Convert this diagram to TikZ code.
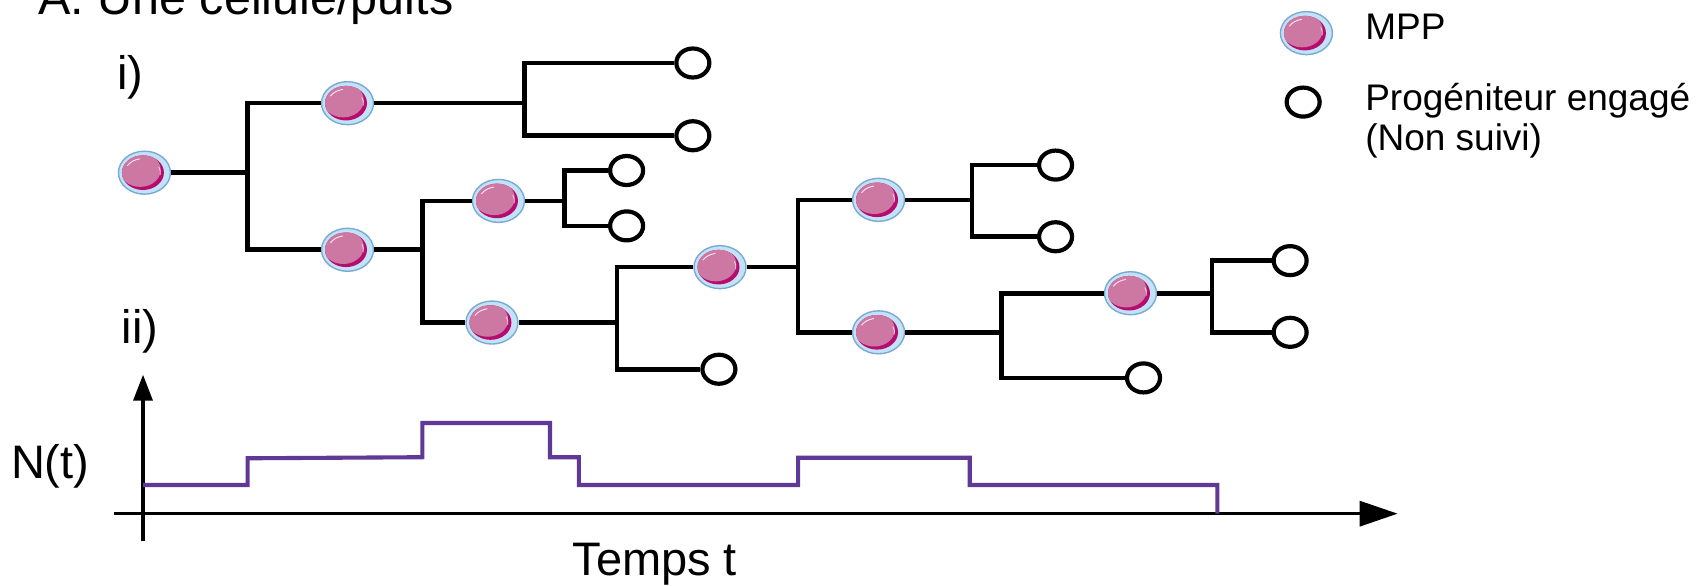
\documentclass[tikz,border=0pt]{standalone}
\usepackage{fontspec}
\setmainfont{Liberation Sans}
\usetikzlibrary{shapes.geometric,arrows.meta}
\definecolor{cellfill}{RGB}{196,226,246}
\definecolor{cellrim}{RGB}{120,170,214}
\definecolor{cellpink}{RGB}{205,120,163}
\definecolor{celldark}{RGB}{182,12,112}
\definecolor{stepcol}{RGB}{96,56,150}
\begin{document}
\begin{tikzpicture}[x=1.086pt,y=-1.086pt,
  mpp/.style={ellipse, draw=cellrim, line width=1.4pt, fill=cellfill,
    minimum width=52pt, minimum height=43pt, inner sep=0pt,
    path picture={
      \begin{scope}[shift={(path picture bounding box.center)}]
        \fill[celldark] (-1.5pt,0pt) ellipse [x radius=21pt, y radius=17.3pt];
        \begin{scope}
          \clip (-1.5pt,0pt) ellipse [x radius=21pt, y radius=17.3pt];
          \fill[cellpink] (-4.2pt,2.8pt) ellipse [x radius=20.5pt, y radius=17pt];
        \end{scope}
        \draw[white, line width=0.9pt, opacity=0.85]
          (-1.5pt,0pt) ++(150:18pt and 14pt)
          arc [start angle=150, end angle=100, x radius=18pt, y radius=14pt];
        \draw[white, line width=0.8pt, opacity=0.7]
          (-1.5pt,0pt) ++(-10:17.5pt and 13.5pt)
          arc [start angle=-10, end angle=25, x radius=17.5pt, y radius=13.5pt];
      \end{scope}}},
  prog/.style={ellipse, draw=black, line width=4.2pt, fill=white,
    minimum width=33pt, minimum height=29pt, inner sep=0pt},
  branch/.style={draw=black, line width=4.6pt},
  axisline/.style={draw=black, line width=3.4pt},
  stepline/.style={draw=stepcol, line width=4.1pt, line join=miter},
  big/.style={inner sep=0pt, font=\fontsize{47pt}{52pt}\selectfont},
  leg/.style={inner sep=0pt, font=\fontsize{37pt}{42pt}\selectfont}
]
\useasboundingbox (0,0) rectangle (1564.5,539.6);

% titles and labels
\node[big, anchor=base west, font=\fontsize{48.5pt}{53pt}\selectfont] (title) at (35,13.8) {A. Une cellule/puits};
\node[big, anchor=base west] (lbli) at (108,82) {i)};
\node[big, anchor=base west] (lblii) at (112,316) {ii)};
\node[big, anchor=base west] (nt) at (10,441) {N(t)};
\node[big, anchor=base west] (temps) at (527,530) {Temps t};

% legend
\node[mpp] (legmpp) at (1203,30.5) {};
\node[prog] (legprog) at (1200,94) {};
\node[leg, anchor=base west] (legt1) at (1257,36.8) {MPP};
\node[leg, anchor=base west] (legt2) at (1257,101.3) {Progéniteur engagé};
\node[leg, anchor=base west] (legt3) at (1257,139) {(Non suivi)};

% junctions
\coordinate (j0) at (228,159);
\coordinate (j1) at (483,95);
\coordinate (j2) at (389,230);
\coordinate (j3) at (520,185);
\coordinate (j4) at (568,297);
\coordinate (j5) at (735,246);
\coordinate (j6) at (895,184);
\coordinate (j7) at (922,306);
\coordinate (j8) at (1116,270);

% cells
\node[mpp] (c0) at (133,159) {};
\node[mpp] (c1) at (320,95) {};
\node[mpp] (c2) at (320,230) {};
\node[mpp] (c3) at (459,185) {};
\node[mpp] (c4) at (453,297) {};
\node[mpp] (c5) at (663,246) {};
\node[mpp] (c6) at (809,184) {};
\node[mpp] (c7) at (809,306) {};
\node[mpp] (c8) at (1041,270) {};

\node[prog] (p1) at (638,58) {};
\node[prog] (p2) at (638,125) {};
\node[prog] (p3) at (577,157) {};
\node[prog] (p4) at (577,208) {};
\node[prog] (p5) at (662,340) {};
\node[prog] (p6) at (972,152) {};
\node[prog] (p7) at (972,218) {};
\node[prog] (p8) at (1053,348) {};
\node[prog] (p9) at (1188,240) {};
\node[prog] (p10) at (1188,306) {};

% branches
\draw[branch] (c0) -- (j0);
\draw[branch] (c1) -| (j0) |- (c2);
\draw[branch] (c1) -- (j1);
\draw[branch] (p1) -| (j1) |- (p2);
\draw[branch] (c2) -- (j2);
\draw[branch] (c3) -| (j2) |- (c4);
\draw[branch] (c3) -- (j3);
\draw[branch] (p3) -| (j3) |- (p4);
\draw[branch] (c4) -- (j4);
\draw[branch] (c5) -| (j4) |- (p5);
\draw[branch] (c5) -- (j5);
\draw[branch] (c6) -| (j5) |- (c7);
\draw[branch] (c6) -- (j6);
\draw[branch] (p6) -| (j6) |- (p7);
\draw[branch] (c7) -- (j7);
\draw[branch] (c8) -| (j7) |- (p8);
\draw[branch] (c8) -- (j8);
\draw[branch] (p9) -| (j8) |- (p10);

% axes
\coordinate (yb) at (131.7,498);
\coordinate (yt) at (131.7,345);
\coordinate (xl) at (105,473);
\coordinate (xr) at (1287,473);
\draw[axisline, -{Triangle[length=26pt,width=19pt]}] (yb) -- (yt);
\draw[axisline, -{Triangle[length=38pt,width=25pt]}] (xl) -- (xr);

% N(t)
\draw[stepline] (131.7,446.6) -- (228,446.6) -- (228,422) -- (389,421)
  -- (389,389.5) -- (506.5,389.5) -- (506.5,421) -- (533,421) -- (533,446.6)
  -- (735,446.6) -- (735,421.5) -- (893,421.5) -- (893,446.6)
  -- (1121,446.6) -- (1121,473);
\end{tikzpicture}
\end{document}
